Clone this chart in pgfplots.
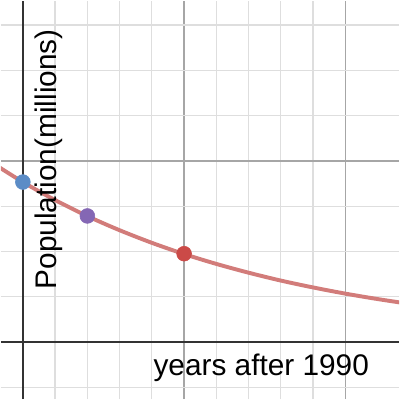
\documentclass[border=0pt]{standalone}
\usepackage{pgfplots}
\pgfplotsset{compat=1.18}
\usepackage{fontspec}
\setmainfont{Liberation Sans}
\definecolor{curvered}{HTML}{D27C7A}
\definecolor{dotblue}{HTML}{5B8CC6}
\definecolor{dotpurple}{HTML}{8467B4}
\definecolor{dotred}{HTML}{CB4A47}
\definecolor{axisgray}{HTML}{333333}

\begin{document}
\begin{tikzpicture}
\begin{axis}[
  width=10cm, height=10cm,
  scale only axis,
  xmin=-1.358, xmax=23.33,
  ymin=-6.30, ymax=37.66,
  axis lines=middle,
  axis line style={-, draw=axisgray, line width=1.4pt},
  xtick distance=10, minor x tick num=4,
  ytick distance=20, minor y tick num=3,
  xticklabels={}, yticklabels={},
  tick style={draw=none},
  grid=both,
  major grid style={draw=black!35, line width=0.9pt},
  minor grid style={draw=black!13, line width=0.9pt},
  clip=true,
]
\addplot[curvered, line width=2.8pt, smooth] coordinates {
  (-2,19.90) (0,17.66) (2,15.67) (4,13.90) (6,12.34) (8,10.95) (10,9.71)
  (12,8.62) (14,7.65) (16,6.78) (18,6.02) (20,5.34) (22,4.74) (24,4.20)
};
\addplot[only marks, mark=*, mark size=5.3pt, color=dotblue] coordinates {(0,17.66)};
\addplot[only marks, mark=*, mark size=5.3pt, color=dotpurple] coordinates {(4,13.92)};
\addplot[only marks, mark=*, mark size=5.3pt, color=dotred] coordinates {(10,9.75)};
\node[anchor=base west, inner sep=0pt, font=\fontsize{21.3}{25}\selectfont]
  at (axis cs:8.09,-3.74) {years after 1990};
\node[anchor=base west, rotate=90, inner sep=0pt, font=\fontsize{21.3}{25}\selectfont]
  at (axis cs:2.07,5.79) {Population(millions)};
\end{axis}
\end{tikzpicture}
\end{document}
